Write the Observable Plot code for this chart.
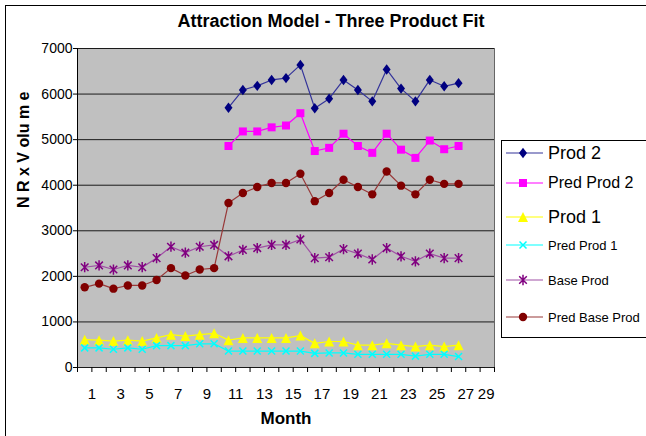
<!DOCTYPE html>
<html>
<head>
<meta charset="utf-8">
<script src="https://cdn.jsdelivr.net/npm/d3@7"></script>
<script src="https://cdn.jsdelivr.net/npm/@observablehq/plot@0.6"></script>
<style>
  body { margin: 0; background: #fff; overflow: hidden; font-family: "Liberation Sans", Arial, sans-serif; }
  #chart { position: relative; width: 646px; height: 436px; overflow: hidden; }
  #chart > svg { position: absolute; left: 0; top: 0; }
  #outer { position: absolute; left: 5px; top: 5px; width: 720px; height: 520px; border: 1px solid #000; }
  #title { position: absolute; left: 0; width: 662px; top: 11px; text-align: center; font-weight: bold; font-size: 18px; color: #000; }
  #legend { position: absolute; left: 501px; top: 140px; width: 200px; height: 196px; border: 1px solid #000; background: #fff; }
  .item { position: absolute; left: 504px; height: 24px; display: flex; align-items: center; color: #000; white-space: nowrap; }
  .item svg { flex: none; margin-right: 3px; }
</style>
</head>
<body>
<div id="chart">
  <div id="outer"></div>
  <div id="title">Attraction Model - Three Product Fit</div>
  <div id="legend"></div>
</div>
<script>
// Months observed for every product, and the later months in which Prod 2 exists
const allMonths = d3.range(1, 28);
const prod2Months = d3.range(11, 28);

// Volumes (NR x Volume) per series
const prod2 = [5700, 6090, 6180, 6310, 6350, 6640, 5690, 5900, 6310, 6090, 5840, 6540, 6120, 5840, 6310, 6170, 6240];
const predProd2 = [4860, 5180, 5180, 5270, 5310, 5580, 4750, 4820, 5130, 4860, 4710, 5130, 4780, 4600, 4980, 4790, 4860];
const prod1 = [610, 600, 580, 600, 580, 650, 720, 690, 720, 750, 600, 650, 650, 650, 650, 700, 530, 570, 570, 490, 490, 530, 490, 460, 490, 460, 490];
const predProd1 = [430, 430, 400, 430, 400, 480, 480, 480, 520, 520, 360, 360, 360, 360, 360, 360, 310, 320, 320, 290, 290, 290, 290, 250, 290, 290, 240];
const baseProd = [2200, 2240, 2150, 2240, 2200, 2400, 2650, 2520, 2650, 2690, 2440, 2580, 2620, 2690, 2690, 2810, 2400, 2420, 2600, 2500, 2370, 2620, 2440, 2330, 2500, 2400, 2400];
const predBaseProd = [1760, 1840, 1730, 1800, 1800, 1920, 2180, 2020, 2150, 2180, 3610, 3830, 3960, 4050, 4050, 4250, 3650, 3830, 4120, 3960, 3800, 4300, 3990, 3800, 4120, 4030, 4030];

// Axis ticks and labels
const yTicks = [0, 1000, 2000, 3000, 4000, 5000, 6000, 7000];
const xTickPositions = d3.range(0, 30);
const xTickLabels = [1, 3, 5, 7, 9, 11, 13, 15, 17, 19, 21, 23, 25, 27];
const xLastLabel = [29];

// Marker shapes, sized from the dot radius
const rad = size => Math.sqrt(size / Math.PI);
const diamond = { draw(c, s) { const r = rad(s); c.moveTo(0, -r * 1.3); c.lineTo(r, 0); c.lineTo(0, r * 1.3); c.lineTo(-r, 0); c.closePath(); } };
const square = { draw(c, s) { const r = rad(s); c.rect(-r, -r, 2 * r, 2 * r); } };
const triangle = { draw(c, s) { const r = rad(s); c.moveTo(0, -r); c.lineTo(r, r); c.lineTo(-r, r); c.closePath(); } };
const cross = { draw(c, s) { const r = rad(s); c.moveTo(-r, -r); c.lineTo(r, r); c.moveTo(-r, r); c.lineTo(r, -r); } };
const star = { draw(c, s) { const r = rad(s); c.moveTo(-r, -r); c.lineTo(r, r); c.moveTo(-r, r); c.lineTo(r, -r); c.moveTo(0, -r * 1.35); c.lineTo(0, r * 1.35); } };

const series = [
  { name: "Prod 2", months: prod2Months, values: prod2, line: "#34349a", mark: "#000080", symbol: diamond, r: 4, filled: true, font: 18 },
  { name: "Pred Prod 2", months: prod2Months, values: predProd2, line: "#ff00ff", mark: "#ff00ff", symbol: square, r: 4, filled: true, font: 16 },
  { name: "Prod 1", months: allMonths, values: prod1, line: "#ffff00", mark: "#ffff00", symbol: triangle, r: 5, filled: true, font: 18 },
  { name: "Pred Prod 1", months: allMonths, values: predProd1, line: "#00ffff", mark: "#00ffff", symbol: cross, r: 3.5, filled: false, font: 13 },
  { name: "Base Prod", months: allMonths, values: baseProd, line: "#a050a5", mark: "#800080", symbol: star, r: 3.8, filled: false, font: 13 },
  { name: "Pred Base Prod", months: allMonths, values: predBaseProd, line: "#983838", mark: "#800000", symbol: "circle", r: 4.2, filled: true, font: 13 }
];
const legendRowY = [153, 183, 217, 245, 280, 317];

const seriesMarks = series.flatMap(s => {
  const rows = s.months.map((m, i) => ({ month: m, value: s.values[i] }));
  const pos = { x: d => d.month - 0.5, y: "value" };
  return [
    Plot.line(rows, { ...pos, stroke: s.line, strokeWidth: 1.2 }),
    Plot.dot(rows, {
      ...pos, symbol: () => s.symbol, r: s.r,
      fill: s.filled ? s.mark : "none",
      stroke: s.filled ? "none" : s.mark,
      strokeWidth: s.filled ? 0 : 1.5
    })
  ];
});

const chart = Plot.plot({
  width: 646,
  height: 436,
  marginLeft: 77,
  marginRight: 152,
  marginTop: 48,
  marginBottom: 69,
  style: { fontFamily: "'Liberation Sans', Arial, sans-serif", background: "transparent", color: "#000" },
  x: { type: "linear", domain: [0, 29] },
  y: { domain: [0, 7000] },
  symbol: { type: "identity" },
  marks: [
    Plot.frame({ fill: "#c0c0c0", stroke: "none" }),
    Plot.ruleY(yTicks, { stroke: "#1a1a1a", strokeWidth: 1 }),
    Plot.ruleX([0], { stroke: "#000" }),
    Plot.ruleX([29], { stroke: "#666" }),
    ...seriesMarks,
    Plot.axisY({ ticks: yTicks, tickSize: 4, tickPadding: 1, fontSize: 14, label: null, tickFormat: d => String(d) }),
    Plot.axisX({ ticks: xTickPositions, tickSize: 5, tickPadding: 16, fontSize: 15, label: null,
      tickFormat: d => xTickLabels.includes(d) ? String(d) : "" }),
    Plot.axisX({ ticks: xLastLabel, tickSize: 0, tickPadding: 21, fontSize: 15, label: null, textAnchor: "end" }),
    Plot.text(["Month"], { frameAnchor: "bottom", dy: 56, fontSize: 17, fontWeight: "bold", text: d => d }),
    Plot.text(["N R x V olu m e"], { frameAnchor: "left", dx: -54, rotate: -90, fontSize: 16, fontWeight: "bold", text: d => d })
  ]
});
document.getElementById("chart").insertBefore(chart, document.getElementById("outer").nextSibling);

// Legend entries: a short line with its marker, then the series name
const host = document.getElementById("chart");
series.forEach((s, i) => {
  const item = document.createElement("div");
  item.className = "item";
  item.style.top = (legendRowY[i] - 12) + "px";
  item.style.fontSize = s.font + "px";
  const svg = d3.create("svg").attr("width", 41).attr("height", 24);
  svg.append("line").attr("x1", 2).attr("x2", 39).attr("y1", 12).attr("y2", 12)
    .attr("stroke", s.line).attr("stroke-width", 1.2);
  const type = s.symbol === "circle" ? d3.symbolCircle : s.symbol;
  svg.append("path").attr("transform", "translate(19,12)")
    .attr("d", d3.symbol(type, s.r * s.r * Math.PI)())
    .attr("fill", s.filled ? s.mark : "none")
    .attr("stroke", s.filled ? "none" : s.mark)
    .attr("stroke-width", 1.5);
  item.appendChild(svg.node());
  const label = document.createElement("span");
  label.textContent = s.name;
  item.appendChild(label);
  host.appendChild(item);
});
</script>
</body>
</html>
